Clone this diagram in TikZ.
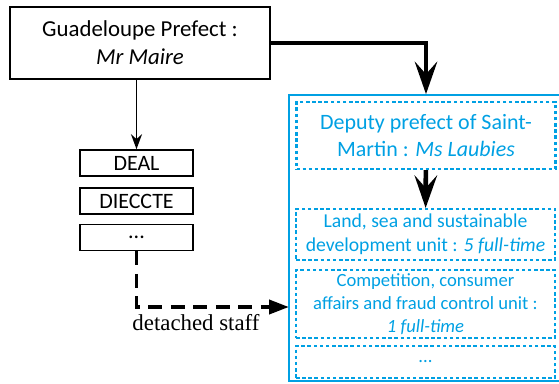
\documentclass[tikz,border=0pt]{standalone}
\usepackage{fontspec}
\setmainfont{Carlito}
\newfontfamily\staffont{Liberation Serif}
\usepackage{xcolor}
\usetikzlibrary{arrows.meta, positioning, calc}
\definecolor{sxmblue}{RGB}{0,160,227}
\tikzset{
    prefbox/.style={rectangle, draw=black, line width=0.8pt, align=center, minimum width=5.2cm, minimum height=1.44cm, font=\fontsize{13}{16}\selectfont},
    servbox/.style={rectangle, draw=black, line width=0.9pt, inner sep=0pt, minimum width=2.26cm, minimum height=0.52cm, font=\fontsize{12.5}{14}\selectfont},
    unitbox/.style={rectangle, draw=sxmblue, line width=1.2pt, dash pattern=on 2pt off 1.5pt, text=sxmblue, align=center, inner sep=0pt, minimum width=5.18cm},
    bigarrow/.style={line width=2.6pt, -{Stealth[length=0.65cm, width=0.45cm, inset=0.25cm]}},
    smallarrow/.style={line width=1.1pt, -{Stealth[length=0.3cm, width=0.22cm]}},
    dasharrow/.style={line width=2.2pt, dash pattern=on 0.28cm off 0.17cm, -{Triangle[length=0.4cm, width=0.28cm]}}
}

\begin{document}
\begin{tikzpicture}[x=0.02cm, y=-0.02cm]
    \useasboundingbox (0,0) rectangle (559,383);
    \clip (0,0) rectangle (559,383);

    % Nodes
    \node (prefect) [prefbox] at (140,43) {Guadeloupe Prefect :\\ \textit{Mr Maire}};
    \node (deal) [servbox] at (136.5,163) {DEAL};
    \node (dieccte) [servbox] at (136.5,201) {DIECCTE};
    \node (other) [servbox] at (136.5,237.5) {...};

    % Saint-Martin
    \node (sxm) [rectangle, draw=sxmblue, line width=1pt, inner sep=0pt, minimum width=5.42cm, minimum height=5.72cm] at (424.5,238) {};
    \node (deputy) [unitbox, minimum height=1.34cm, font=\fontsize{12.5}{15}\selectfont] at (426,135.5) {Deputy prefect of Saint-\\ Martin : \textit{Ms Laubies}};
    \node (land) [unitbox, minimum height=1.02cm, font=\fontsize{11.2}{13.5}\selectfont] at (425.5,234.5) {Land, sea and sustainable\\ development unit : \textit{5 full-time}};
    \node (ccrf) [unitbox, minimum height=1.36cm, font=\fontsize{10.6}{13}\selectfont] at (425.5,304) {Competition, consumer\\ affairs and fraud control unit :\\ \textit{1 full-time}};
    \node (more) [unitbox, minimum height=0.64cm, font=\fontsize{10.6}{13}\selectfont] at (425.5,362) {...};

    % Detached staff
    \coordinate (staff) at (289,307);
    \node (stafflabel) [font=\staffont\fontsize{13}{15}\selectfont] at (196,323) {detached staff};

    % Arrows
    \draw [smallarrow] (prefect.south -| deal) -- (deal);
    \draw [bigarrow] (prefect.east) -| (sxm.north -| deputy);
    \draw [bigarrow] (deputy) -- (land);
    \draw [dasharrow] (other.south) |- (staff);
\end{tikzpicture}
\end{document}
